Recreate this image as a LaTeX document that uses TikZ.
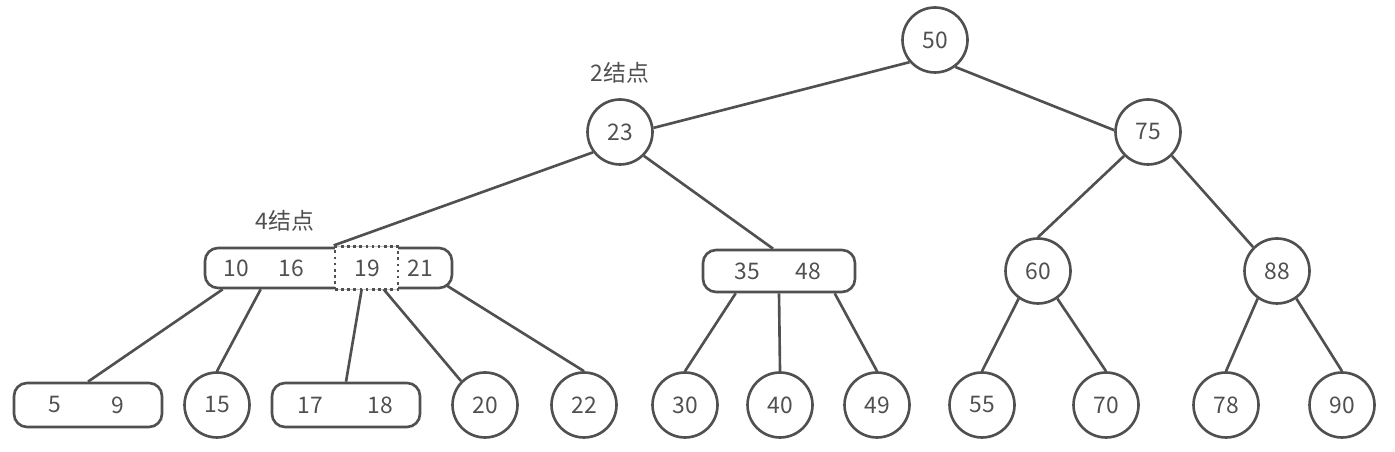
\documentclass[tikz,border=0pt]{standalone}
\usepackage{fontspec}
\setmainfont{Noto Sans CJK SC}
\usetikzlibrary{calc}
\definecolor{treegray}{HTML}{505050}
\begin{document}
\begin{tikzpicture}[x=0.02cm,y=0.02cm,
key/.style = {circle,draw=treegray,line width=1.5pt,minimum size=1.3cm,inner sep=0pt,
        text=treegray,font=\fontsize{13}{15}\selectfont},
multi/.style = {rounded corners=0.26cm,draw=treegray,line width=1.5pt,inner sep=0pt,
        minimum height=0.84cm},
keytext/.style = {text=treegray,inner sep=0pt,font=\fontsize{13}{15}\selectfont},
link/.style = {line width=1.5pt,treegray},
note/.style = {text=treegray,font=\fontsize{13}{15}\selectfont}]

        \useasboundingbox (0,0) rectangle (1395,452);

        % top levels
        \node[key] (n50) at (935,412) {50};
        \node[key] (n23) at (620,320) {23};
        \node[key] (n75) at (1148,320) {75};

        % 4 node
        \node[multi,minimum width=4.94cm,minimum height=0.8cm] (n4) at (328.5,184) {};
        \node[rectangle,fill=white,draw=treegray,line width=1.5pt,dotted,inner sep=0pt,
            minimum width=1.26cm,minimum height=0.85cm] (n19) at (366.5,184) {};
        \node[keytext] (k10) at (236,184) {10};
        \node[keytext] (k16) at (291,184) {16};
        \node[keytext] (k19) at (367,184) {19};
        \node[keytext] (k21) at (420,184) {21};

        % 3 node
        \node[multi,minimum width=3.04cm] (n3548) at (779,181) {};
        \node[keytext] (k35) at (747,181) {35};
        \node[keytext] (k48) at (808,181) {48};

        \node[key] (n60) at (1038,181) {60};
        \node[key] (n88) at (1277,181) {88};

        % leaves
        \node[multi,minimum width=2.96cm,minimum height=0.88cm] (n59) at (88,47) {};
        \node[keytext] (k5) at (55,47) {5};
        \node[keytext] (k9) at (118,47) {9};
        \node[key] (n15) at (217,47) {15};
        \node[multi,minimum width=2.96cm,minimum height=0.88cm] (n1718) at (346,47) {};
        \node[keytext] (k17) at (310,47) {17};
        \node[keytext] (k18) at (380,47) {18};
        \node[key] (n20) at (485,47) {20};
        \node[key] (n22) at (584,47) {22};
        \node[key] (n30) at (685,47) {30};
        \node[key] (n40) at (780,47) {40};
        \node[key] (n49) at (877,47) {49};
        \node[key] (n55) at (982,47) {55};
        \node[key] (n70) at (1106,47) {70};
        \node[key] (n78) at (1226,47) {78};
        \node[key] (n90) at (1342,47) {90};

        \node[note] (l2) at (620,379) {2结点};
        \node[note] (l4) at (285,231) {4结点};

        % links
        \draw[link] (n50.221) -- (n23.7);
        \draw[link] (n50.307) -- (n75.177);
        \draw[link] (n23.217) -- (n19.north west);
        \draw[link] (n23.315) -- ([xshift=-0.12cm]n3548.north);
        \draw[link] (n75.225) -- (n60.north);
        \draw[link] (n75.315) -- (n88.135);

        \draw[link] ([xshift=0.38cm]n4.south west) -- (n59.north);
        \draw[link] ([xshift=1.14cm]n4.south west) -- (n15.north);
        \draw[link] ([xshift=3.16cm]n4.south west) -- (n1718.north);
        \draw[link] ([xshift=3.6cm]n4.south west) -- (n20.135);
        \draw[link] ([xshift=-0.14cm,yshift=0.08cm]n4.south east) -- (n22.north);

        \draw[link] ([xshift=0.68cm]n3548.south west) -- (n30.north);
        \draw[link] (n3548.south) -- (n40.north);
        \draw[link] ([xshift=2.66cm]n3548.south west) -- (n49.north);

        \draw[link] (n60.235) -- (n55.north);
        \draw[link] (n60.305) -- (n70.north);
        \draw[link] (n88.235) -- (n78.north);
        \draw[link] (n88.305) -- (n90.north);

    \end{tikzpicture}
\end{document}
